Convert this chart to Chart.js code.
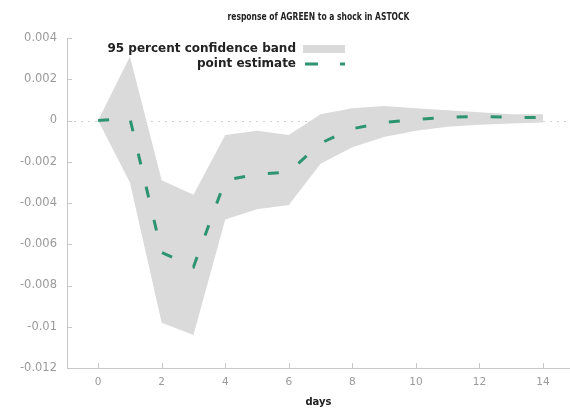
<!DOCTYPE html>
<html>
<head>
<meta charset="utf-8">
<script src="https://cdn.jsdelivr.net/npm/chart.js@4.4.1/dist/chart.umd.min.js"></script>
<style>
  html, body { margin: 0; padding: 0; background: #ffffff; }
  #wrap { width: 570px; height: 416px; position: relative; }
</style>
</head>
<body>
<div id="wrap"><canvas id="c" width="570" height="416"></canvas></div>
<script>
// Impulse response horizon (days after the shock)
const days = [0, 1, 2, 3, 4, 5, 6, 7, 8, 9, 10, 11, 12, 13, 14];

// Point estimate of the AGREEN response
const pointEstimate = [0, 0.0001, -0.0064, -0.0071, -0.0029, -0.0026, -0.0025, -0.0011, -0.0004, -0.0001, 0.00005, 0.00015, 0.0002, 0.00015, 0.00015];

// 95 percent confidence band
const bandUpper = [0, 0.0031, -0.0029, -0.0036, -0.0007, -0.0005, -0.0007, 0.0003, 0.0006, 0.0007, 0.0006, 0.0005, 0.0004, 0.0003, 0.0003];
const bandLower = [0, -0.0030, -0.0098, -0.0104, -0.0048, -0.0043, -0.0041, -0.0021, -0.0013, -0.0008, -0.0005, -0.0003, -0.0002, -0.00015, -0.0001];

// Axis ticks
const xTicks = [0, 2, 4, 6, 8, 10, 12, 14];
const yTicks = [0.004, 0.002, 0, -0.002, -0.004, -0.006, -0.008, -0.01, -0.012];
const yTickLabels = ['0.004', '0.002', '0', '-0.002', '-0.004', '-0.006', '-0.008', '-0.01', '-0.012'];

const titleText = 'response of AGREEN to a shock in ASTOCK';
const xTitle = 'days';

const BAND = '#dadada';
const LINE = '#2d9470';
const AXIS = '#c8c8c8';
const TICKTXT = '#9a9a9a';

const pts = arr => arr.map((v, i) => ({ x: days[i], y: v }));

// Dotted zero line, inward tick marks, title and gnuplot-style key
const decor = {
  id: 'decor',
  beforeDatasetsDraw(chart) {
    const { ctx, chartArea: a, scales: { y } } = chart;
    ctx.save();
    const y0 = y.getPixelForValue(0);
    ctx.strokeStyle = '#d0d0d0';
    ctx.lineWidth = 1;
    ctx.setLineDash([2, 5]);
    ctx.beginPath();
    ctx.moveTo(a.left, Math.round(y0) + 0.5);
    ctx.lineTo(a.right, Math.round(y0) + 0.5);
    ctx.stroke();
    ctx.restore();
  },
  afterDraw(chart) {
    const { ctx, chartArea: a, scales: { x, y } } = chart;
    ctx.save();
    // inward ticks
    ctx.strokeStyle = AXIS;
    ctx.lineWidth = 1;
    ctx.beginPath();
    yTicks.forEach(v => {
      const py = Math.round(y.getPixelForValue(v)) + 0.5;
      ctx.moveTo(a.left, py);
      ctx.lineTo(a.left + 5, py);
    });
    xTicks.forEach(v => {
      const px = Math.round(x.getPixelForValue(v)) + 0.5;
      ctx.moveTo(px, a.bottom);
      ctx.lineTo(px, a.bottom - 5);
    });
    ctx.stroke();

    // title
    ctx.fillStyle = '#222222';
    ctx.font = 'bold 10px "DejaVu Sans"';
    ctx.textAlign = 'center';
    ctx.textBaseline = 'middle';
    ctx.fillText(titleText, (a.left + a.right) / 2, 17, 182);

    // key
    const ds = chart.data.datasets;
    const keyRight = 296;
    ctx.font = 'bold 12px "DejaVu Sans"';
    ctx.textAlign = 'right';
    ctx.fillStyle = '#222222';
    ctx.fillText(ds[0].label, keyRight, 49);
    ctx.fillText(ds[2].label, keyRight, 64);
    ctx.fillStyle = BAND;
    ctx.fillRect(303, 45, 42, 8);
    ctx.strokeStyle = LINE;
    ctx.lineWidth = 3;
    ctx.setLineDash([13, 22]);
    ctx.beginPath();
    ctx.moveTo(305, 64);
    ctx.lineTo(345, 64);
    ctx.stroke();
    ctx.restore();
  }
};

new Chart(document.getElementById('c'), {
  type: 'line',
  data: {
    datasets: [
      {
        label: '95 percent confidence band',
        data: pts(bandUpper),
        borderWidth: 0,
        pointRadius: 0,
        backgroundColor: BAND,
        fill: '+1',
        tension: 0,
        order: 2
      },
      {
        label: 'lower',
        data: pts(bandLower),
        borderWidth: 0,
        pointRadius: 0,
        fill: false,
        tension: 0,
        order: 3
      },
      {
        label: 'point estimate',
        data: pts(pointEstimate),
        borderColor: LINE,
        borderWidth: 3,
        borderDash: [11, 23],
        borderCapStyle: 'butt',
        pointRadius: 0,
        fill: false,
        tension: 0,
        order: 0
      }
    ]
  },
  options: {
    responsive: false,
    animation: false,
    events: [],
    layout: { padding: { top: 38, right: 0, left: 0, bottom: 8 } },
    plugins: {
      legend: { display: false },
      tooltip: { enabled: false },
      title: { display: false }
    },
    scales: {
      x: {
        type: 'linear',
        min: -0.98,
        max: 14.85,
        afterBuildTicks: s => { s.ticks = xTicks.map(v => ({ value: v })); },
        afterFit: s => { s.height = 40; },
        grid: { display: false, drawTicks: false },
        border: { display: true, color: AXIS, width: 1 },
        ticks: {
          color: TICKTXT,
          font: { family: 'DejaVu Sans', size: 10.5 },
          padding: 8,
          maxRotation: 0,
          autoSkip: false
        },
        title: {
          display: true,
          text: xTitle,
          color: '#222222',
          font: { family: 'DejaVu Sans', size: 10, weight: 'bold' },
          padding: { top: 4, bottom: 0 }
        }
      },
      y: {
        min: -0.012,
        max: 0.004,
        afterBuildTicks: s => { s.ticks = yTicks.map(v => ({ value: v })); },
        afterFit: s => { s.width = 67; },
        grid: { display: false, drawTicks: false },
        border: { display: true, color: AXIS, width: 1 },
        ticks: {
          color: TICKTXT,
          font: { family: 'DejaVu Sans', size: 11.5 },
          padding: 10,
          autoSkip: false,
          callback: (v, i) => yTickLabels[i]
        }
      }
    }
  },
  plugins: [decor]
});
</script>
</body>
</html>
